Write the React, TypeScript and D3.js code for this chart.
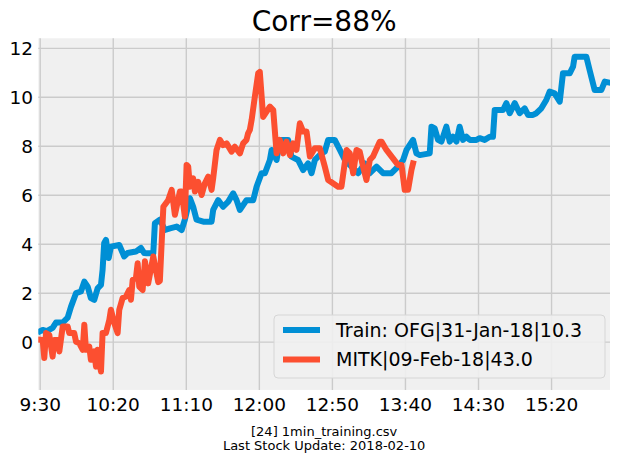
import React from "react";
import * as d3 from "d3";

const titleText = "Corr=88%";
const subtitleLines = ["[24] 1min_training.csv", "Last Stock Update: 2018-02-10"];
const seriesNames = ["Train: OFG|31-Jan-18|10.3", "MITK|09-Feb-18|43.0"];
const seriesColors = ["#008fd5", "#fc4f30"];

const xTickMinutes = [0, 50, 100, 150, 200, 250, 300, 350];
const xTickLabels = ["9:30", "10:20", "11:10", "12:00", "12:50", "13:40", "14:30", "15:20"];
const yTicks = [0, 2, 4, 6, 8, 10, 12];

// minutes since 9:30 (traced vertices)
const trainMinutes = [
  0, 1.7, 4.5, 8.5, 10.8, 15.4, 18.8, 21.1, 24.5, 27.9, 30.2, 32.5, 34.7, 37.0, 39.3, 41.6, 42.7, 43.8, 45.0,
  46.9, 48.4, 54.1, 57.5, 59.8, 65.5, 68.9, 71.2, 72.8, 77.4, 78.5, 81.9, 85.4, 88.8, 93.4, 96.8, 99.0, 102.5,
  104.7, 107.0, 111.6, 117.3, 118.4, 121.8, 125.2, 128.7, 132.1, 134.4, 136.7, 141.2, 145.8, 148.1, 151.5,
  153.8, 157.2, 158.4, 161.8, 164.0, 169.7, 172.0, 176.5, 180.0, 183.4, 185.7, 188.0, 192.5, 194.8, 197.1,
  201.6, 205.1, 208.5, 213.1, 217.6, 222.2, 225.6, 230.2, 234.7, 240.4, 244.9, 248.4, 250.7, 255.2, 257.5,
  259.8, 266.6, 267.8, 270.0, 272.3, 274.6, 278.0, 280.3, 282.6, 284.9, 287.1, 289.4, 291.7, 294.0, 298.6,
  300.8, 304.2, 307.7, 309.9, 311.1, 316.8, 319.1, 321.4, 324.8, 328.2, 331.6, 333.9, 337.3, 339.6, 343.0,
  346.4, 348.7, 352.1, 355.6, 357.8, 362.4, 364.7, 365.8, 373.8, 376.1, 377.2, 379.5, 384.1, 386.4, 389.5,
];
const trainValues = [
  0.45, 0.5, 0.45, 0.58, 0.8, 0.8, 1.0, 1.45, 2.0, 2.07, 2.47, 2.27, 1.8, 1.73, 2.2, 2.34, 2.95, 4.04, 4.18,
  3.44, 3.9, 3.97, 3.5, 3.64, 3.7, 3.85, 3.64, 3.63, 3.63, 4.86, 5.0, 4.58, 4.65, 4.72, 4.58, 5.0, 5.88,
  5.53, 5.0, 4.92, 4.92, 5.4, 5.8, 5.53, 5.74, 6.08, 5.8, 5.4, 5.8, 5.8, 6.35, 6.9,
  6.9, 7.44, 7.85, 7.44, 8.26, 8.26, 7.58, 7.44, 7.03, 7.3, 6.9, 7.44, 7.71, 7.78, 8.26,
  8.26, 7.85, 7.44, 7.17, 6.9, 7.3, 6.9, 7.17, 6.9, 6.9, 7.17, 7.44, 7.85, 8.26, 7.71,
  7.64, 7.71, 8.8, 8.73, 8.26, 8.19, 8.8, 8.19, 8.39, 8.19, 8.8, 8.26, 8.39, 8.26, 8.26,
  8.33, 8.26, 8.39, 8.39, 9.48, 9.48, 9.76, 9.35, 9.76, 9.35, 9.55, 9.28, 9.28, 9.35, 9.55,
  9.89, 10.23, 10.16, 9.82, 10.98, 10.98, 11.25, 11.66, 11.66, 11.1, 10.84, 10.3, 10.3, 10.64, 10.6,
];

const mitkMinutes = [
  0, 1.7, 2.8, 4.0, 6.2, 8.5, 9.6, 12.0, 13.1, 15.4, 18.8, 19.9, 23.3, 24.5, 26.7, 29.1, 30.2, 31.3, 33.6,
  34.7, 37.0, 38.2, 39.3, 41.6, 42.7, 45.0, 47.3, 48.4, 50.7, 53.0, 54.1, 56.4, 58.7, 60.9, 62.1, 63.3, 65.5,
  66.7, 67.8, 70.1, 71.7, 73.9, 77.4, 80.8, 81.9, 84.3, 87.6, 90.0, 92.2, 95.6, 96.8, 99.0, 100.2, 101.3,
  102.5, 104.7, 105.9, 108.1, 110.5, 112.7, 115.0, 117.3, 118.4, 120.7, 123.0, 125.2, 127.6, 131.0, 133.2,
  136.7, 138.9, 141.2, 142.3, 143.5, 144.7, 146.9, 149.2, 150.3, 152.6, 157.2, 159.5, 161.8, 164.0, 166.3,
  168.6, 170.9, 173.1, 175.4, 177.7, 180.0, 182.3, 184.6, 188.0, 191.4, 194.8, 197.1, 203.9, 206.2, 209.7,
  211.9, 214.2, 216.5, 218.7, 221.0, 223.3, 225.6, 227.8, 232.4, 233.6, 237.0, 244.9, 247.3, 249.5, 251.8,
  254.1, 255.2,
];
const mitkValues = [
  0.1, 0.09, -0.65, 0.37, 0.3, -0.59, 0.09, 0.09, -0.38, 0.64, 0.64, 0.37, 0.37, 0.02, -0.04, -0.31, 0.71, -0.31, -0.18,
  -0.72, -0.38, -1.0, -0.31, -1.2, 0.37, 0.37, 0.91, 1.32, 0.78, 0.37, 1.32, 1.8, 1.86, 2.13, 1.73, 2.54, 2.61,
  3.22, 2.27, 2.13, 3.3, 2.4, 3.5, 2.45, 2.5, 5.53, 5.8, 6.22, 5.2, 6.15, 6.15, 5.13, 7.24, 7.17, 6.35,
  6.69, 6.15, 6.55, 6.01, 6.49, 6.76, 6.22, 6.69, 7.85, 8.26, 8.05, 8.12, 7.78, 7.98, 7.71,
  8.12, 8.26, 8.53, 8.67, 9.07, 10.02, 10.98, 11.04, 9.2, 9.62, 9.48, 7.71, 8.26, 7.71, 8.19,
  7.64, 8.12, 7.85, 8.94, 8.6, 8.6, 7.58, 7.92, 7.92, 7.17, 6.62, 6.35, 6.35, 7.85, 7.71,
  6.9, 7.85, 7.78, 7.17, 6.62, 7.44, 7.58, 8.19, 8.19, 7.85, 7.24, 7.24, 6.22, 6.22, 7.03,
  7.3, 7.58,
];

const W = 617;
const H = 458;
const plot = { left: 38.3, right: 610, top: 38.3, bottom: 389.9 };
const FONT = "'DejaVu Sans', sans-serif";

export default function App() {
  const x = d3.scaleLinear().domain([-1.3, 390]).range([plot.left, plot.right]);
  const y = d3.scaleLinear().domain([-1.95, 12.41]).range([plot.bottom, plot.top]);

  const mk = (ms: number[], vs: number[]) =>
    d3
      .line<number>()
      .x((_, i) => x(ms[i]))
      .y((v) => y(v))(vs) || "";

  const paths = [mk(trainMinutes, trainValues), mk(mitkMinutes, mitkValues)];

  const legend = { x: 274, y: 315, w: 331, h: 63 };

  return (
    <div style={{ position: "fixed", left: 0, top: 0 }}>
      <svg width={W} height={H} style={{ display: "block", background: "#ffffff" }}>
        <defs>
          <clipPath id="plotclip">
            <rect x={plot.left} y={plot.top} width={plot.right - plot.left} height={plot.bottom - plot.top} />
          </clipPath>
        </defs>
        <rect x={plot.left} y={plot.top} width={plot.right - plot.left} height={plot.bottom - plot.top} fill="#f0f0f0" />
        {xTickMinutes.map((m) => (
          <line key={"gx" + m} x1={x(m)} x2={x(m)} y1={plot.top} y2={plot.bottom} stroke="#cbcbcb" strokeWidth={1.4} />
        ))}
        {yTicks.map((t) => (
          <line key={"gy" + t} x1={plot.left} x2={plot.right} y1={y(t)} y2={y(t)} stroke="#cbcbcb" strokeWidth={1.4} />
        ))}
        <g clipPath="url(#plotclip)">
          {paths.map((d, i) => (
            <path key={i} d={d} fill="none" stroke={seriesColors[i]} strokeWidth={6} strokeLinejoin="round" strokeLinecap="square" />
          ))}
        </g>
        {xTickMinutes.map((m, i) => (
          <text key={"xl" + m} x={x(m)} y={411} textAnchor="middle" fontFamily={FONT} fontSize={18.5} fill="#000">
            {xTickLabels[i]}
          </text>
        ))}
        {yTicks.map((t) => (
          <text key={"yl" + t} x={33} y={y(t)} dy="0.36em" textAnchor="end" fontFamily={FONT} fontSize={18.5} fill="#000">
            {t}
          </text>
        ))}
        <text x={(plot.left + plot.right) / 2} y={31} textAnchor="middle" fontFamily={FONT} fontSize={28} fill="#000">
          {titleText}
        </text>
        {subtitleLines.map((s, i) => (
          <text key={s} x={(plot.left + plot.right) / 2} y={435.5 + i * 14} textAnchor="middle" fontFamily={FONT} fontSize={13} fill="#000">
            {s}
          </text>
        ))}
        <rect x={legend.x} y={legend.y} width={legend.w} height={legend.h} rx={4} fill="#f0f0f0" fillOpacity={0.9} stroke="#d6d6d6" strokeWidth={1} />
        {seriesNames.map((n, i) => (
          <g key={n}>
            <line x1={283} x2={320} y1={330 + i * 29.5} y2={330 + i * 29.5} stroke={seriesColors[i]} strokeWidth={6} />
            <text x={336} y={330 + i * 29.5} dy="0.36em" fontFamily={FONT} fontSize={19} fill="#000">
              {n}
            </text>
          </g>
        ))}
      </svg>
    </div>
  );
}
